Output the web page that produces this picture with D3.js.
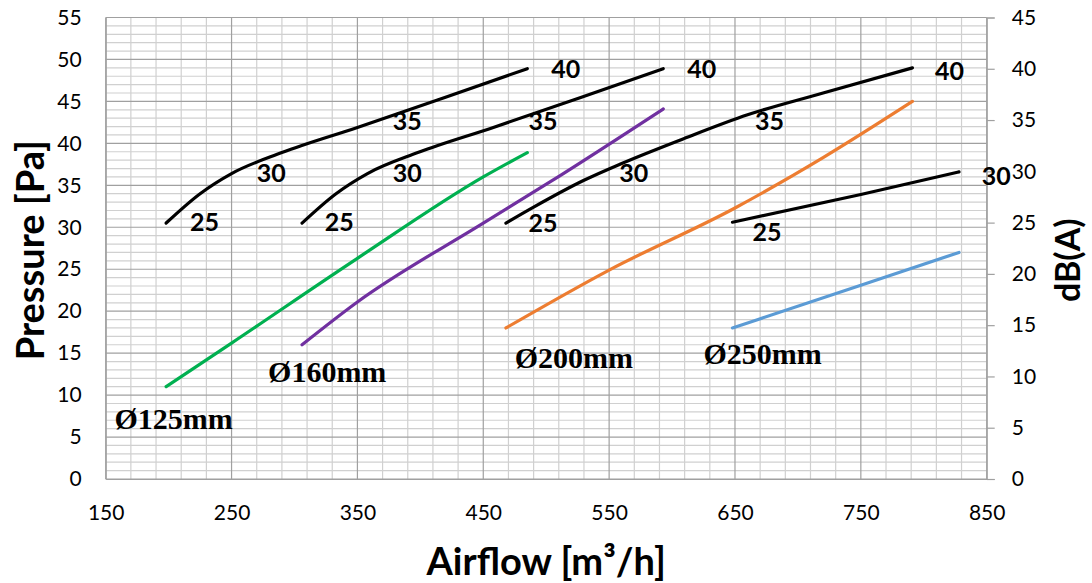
<!DOCTYPE html>
<html>
<head>
<meta charset="utf-8">
<script src="https://cdn.jsdelivr.net/npm/d3@7"></script>
<style>
  body { margin: 0; background: #fff; }
  .tick-label { font-family: Lato, "Open Sans", sans-serif; font-size: 21px; fill: #000; }
  .axis-title { font-family: Lato, "Open Sans", sans-serif; font-weight: bold; font-size: 38px; fill: #000; }
  .db-label { font-family: Lato, "Open Sans", sans-serif; font-weight: bold; font-size: 25px; fill: #000; }
  .dia-label { font-family: "Liberation Serif", "Times New Roman", serif; font-weight: bold; font-size: 30px; fill: #000; }
</style>
</head>
<body>
<div id="chart"></div>
<script>
// Axis ticks
const xTicks = [150, 250, 350, 450, 550, 650, 750, 850];
const yLeftTicks = [0, 5, 10, 15, 20, 25, 30, 35, 40, 45, 50, 55];
const yRightTicks = [0, 5, 10, 15, 20, 25, 30, 35, 40, 45];

// Noise curves (black), [airflow, pressure]
const noise125 = [[198, 30.5], [225, 34], [250, 36.4], [290, 38.9], [350, 41.9], [420, 45.5], [485, 48.9]];
const noise160 = [[306, 30.5], [333, 34], [358, 36.4], [398, 38.9], [458, 41.9], [528, 45.5], [593, 48.9]];
const noise200 = [[468, 30.5], [490, 32.4], [530, 35.6], [560, 37.6], [610, 40.6], [660, 43.4], [720, 46], [791, 49]];
const noise250 = [[648, 30.6], [750, 33.9], [828, 36.6]];

// Duct pressure curves, [airflow, pressure]
const duct125 = [[198, 11], [250, 16.2], [350, 26.3], [450, 36], [485, 38.9]];
const duct160 = [[306, 16], [350, 21.1], [450, 30.5], [503, 35.4], [593, 44.1]];
const duct200 = [[468, 18], [550, 24.9], [650, 32.3], [720, 38.3], [791, 45]];
const duct250 = [[648, 18], [750, 23.1], [828, 27]];

const ductColors = ["#00b050", "#7030a0", "#ed7d31", "#5b9bd5"];

// dB(A) annotations, anchored at [airflow, pressure]
const dbLabels = [
    { x: 217, y: 29.6, text: "25" }, { x: 270, y: 35.4, text: "30" }, { x: 378, y: 41.6, text: "35" }, { x: 504, y: 47.8, text: "40" },
    { x: 324, y: 29.6, text: "25" }, { x: 378, y: 35.4, text: "30" }, { x: 486, y: 41.6, text: "35" }, { x: 612, y: 47.8, text: "40" },
    { x: 486, y: 29.4, text: "25" }, { x: 558, y: 35.4, text: "30" }, { x: 666, y: 41.6, text: "35" }, { x: 809, y: 47.6, text: "40" },
    { x: 664, y: 28.4, text: "25" }, { x: 846, y: 35.0, text: "30" }
];

// Duct diameter annotations
const diaLabels = [
    { x: 157, y: 6, text: "Ø125mm" },
    { x: 279, y: 11.6, text: "Ø160mm" },
    { x: 475, y: 13.2, text: "Ø200mm" },
    { x: 625, y: 13.7, text: "Ø250mm" }
];

const width = 1092, height = 583;
const margins = { top: 17.5, right: 105.3, bottom: 104, left: 105.7 };
const innerW = width - margins.left - margins.right;
const innerH = height - margins.top - margins.bottom;

const svg = d3.select("#chart").append("svg")
    .attr("width", width)
    .attr("height", height);

const g = svg.append("g")
    .attr("transform", `translate(${margins.left},${margins.top})`);

const xScale = d3.scaleLinear().domain([150, 850]).range([0, innerW]);
const yScale = d3.scaleLinear().domain([0, 55]).range([innerH, 0]);
const yRight = d3.scaleLinear().domain([0, 45]).range([innerH, 0]);

// Grid: minor then major
const minorX = d3.range(150, 851, 20).filter(v => (v - 150) % 100 !== 0);
const minorY = d3.range(0, 56, 1).filter(v => v % 5 !== 0);

g.selectAll(".minor-x").data(minorX).enter().append("line")
    .attr("x1", d => xScale(d)).attr("x2", d => xScale(d))
    .attr("y1", 0).attr("y2", innerH)
    .attr("stroke", "#d0d0d0").attr("stroke-width", 1.2);

g.selectAll(".minor-y").data(minorY).enter().append("line")
    .attr("x1", 0).attr("x2", innerW)
    .attr("y1", d => yScale(d)).attr("y2", d => yScale(d))
    .attr("stroke", "#d0d0d0").attr("stroke-width", 1.2);

g.selectAll(".major-x").data(xTicks).enter().append("line")
    .attr("x1", d => xScale(d)).attr("x2", d => xScale(d))
    .attr("y1", 0).attr("y2", innerH)
    .attr("stroke", "#a0a0a0").attr("stroke-width", 1.2);

g.selectAll(".major-y").data(yLeftTicks).enter().append("line")
    .attr("x1", 0).attr("x2", innerW)
    .attr("y1", d => yScale(d)).attr("y2", d => yScale(d))
    .attr("stroke", "#a0a0a0").attr("stroke-width", 1.2);

// Right axis with outward ticks
const rightAxis = g.append("g")
    .attr("transform", `translate(${innerW},0)`)
    .call(d3.axisRight(yRight).tickValues(yRightTicks).tickSize(8).tickPadding(17));
rightAxis.select(".domain").attr("stroke", "#a0a0a0").attr("stroke-width", 1.2);
rightAxis.selectAll(".tick line").attr("stroke", "#a0a0a0").attr("stroke-width", 1.2);
rightAxis.selectAll(".tick text").attr("class", "tick-label").attr("font-family", null).attr("font-size", null);

// Left axis
const leftAxis = g.append("g")
    .call(d3.axisLeft(yScale).tickValues(yLeftTicks).tickSize(0).tickPadding(24));
leftAxis.select(".domain").attr("stroke", "#a0a0a0").attr("stroke-width", 1.2);
leftAxis.selectAll(".tick text").attr("class", "tick-label").attr("font-family", null).attr("font-size", null);

// Bottom axis
const bottomAxis = g.append("g")
    .attr("transform", `translate(0,${innerH})`)
    .call(d3.axisBottom(xScale).tickValues(xTicks).tickSize(0).tickPadding(26));
bottomAxis.select(".domain").attr("stroke", "#a0a0a0").attr("stroke-width", 1.2);
bottomAxis.selectAll(".tick text").attr("class", "tick-label").attr("font-family", null).attr("font-size", null);

// Curves
const line = d3.line()
    .x(d => xScale(d[0]))
    .y(d => yScale(d[1]))
    .curve(d3.curveMonotoneX);

[noise125, noise160, noise200, noise250].forEach(series => {
    g.append("path").datum(series)
        .attr("d", line)
        .attr("fill", "none")
        .attr("stroke", "#000")
        .attr("stroke-width", 3.2)
        .attr("stroke-linecap", "round");
});

[duct125, duct160, duct200, duct250].forEach((series, i) => {
    g.append("path").datum(series)
        .attr("d", line)
        .attr("fill", "none")
        .attr("stroke", ductColors[i])
        .attr("stroke-width", 3.2)
        .attr("stroke-linecap", "round");
});

// Labels
g.selectAll(".db").data(dbLabels).enter().append("text")
    .attr("class", "db-label")
    .attr("x", d => xScale(d.x))
    .attr("y", d => yScale(d.y))
    .text(d => d.text);

g.selectAll(".dia").data(diaLabels).enter().append("text")
    .attr("class", "dia-label")
    .attr("x", d => xScale(d.x))
    .attr("y", d => yScale(d.y))
    .text(d => d.text);

// Axis titles
svg.append("text")
    .attr("class", "axis-title")
    .attr("text-anchor", "middle")
    .attr("transform", `translate(44,${margins.top + innerH / 2 + 2}) rotate(-90)`)
    .text("Pressure [Pa]");

svg.append("text")
    .attr("class", "axis-title")
    .attr("text-anchor", "middle")
    .attr("x", margins.left + innerW / 2)
    .attr("y", 575)
    .text("Airflow [m³/h]");

svg.append("text")
    .attr("class", "axis-title")
    .attr("text-anchor", "middle")
    .style("font-size", "34px")
    .attr("transform", `translate(1080,${margins.top + innerH / 2 + 12}) rotate(-90)`)
    .text("dB(A)");
</script>
</body>
</html>
